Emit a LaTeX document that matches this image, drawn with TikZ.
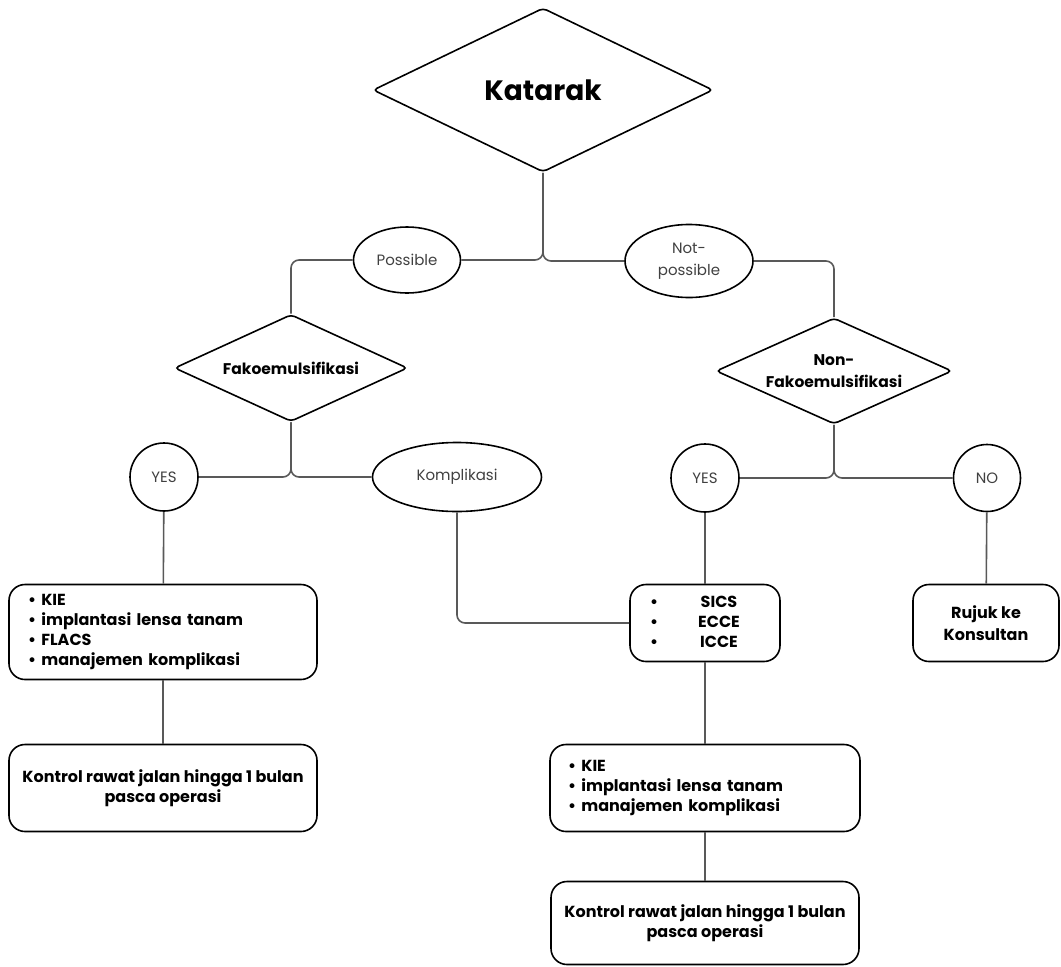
\documentclass[tikz,border=0pt]{standalone}
\usepackage{fontspec}
\setmainfont{Poppins}
\usetikzlibrary{shapes.geometric,positioning}
\tikzset{
    decision/.style={draw, diamond, aspect=2.2, line width=1.6pt, rounded corners=4pt, inner sep=0pt, align=center, font=\bfseries\fontsize{15.5}{22}\selectfont},
    answer/.style={draw, ellipse, line width=1.6pt, inner sep=0pt, align=center, text=black!75, font=\fontsize{15}{22}\selectfont},
    action/.style={draw, rectangle, rounded corners=16pt, line width=1.6pt, inner sep=0pt, align=center, font=\bfseries\fontsize{16}{20}\selectfont},
    link/.style={draw=black!65, line width=1.6pt, rounded corners=8pt}
}

\begin{document}
\begin{tikzpicture}[x=1pt, y=-1pt]
    \useasboundingbox (0,0) rectangle (1061,967);

    % decisions
    \node[decision, aspect=2, minimum width=340pt, minimum height=164pt, font=\bfseries\fontsize{28}{32}\selectfont] (katarak) at (543,90) {Katarak};
    \node[decision, minimum width=233pt, minimum height=107pt] (fako) at (291,368) {Fakoemulsifikasi};
    \node[decision, minimum width=236pt, minimum height=106pt] (nonfako) at (834,371) {Non-\\Fakoemulsifikasi};

    % answers
    \node[answer, minimum width=107pt, minimum height=66pt] (possible) at (407,260) {Possible};
    \node[answer, minimum width=128pt, minimum height=73pt] (notpossible) at (689,261) {Not-\\possible};
    \node[answer, circle, minimum size=68pt] (yesfako) at (164,477) {YES};
    \node[answer, minimum width=169pt, minimum height=69pt] (komplikasi) at (457,477) {Komplikasi};
    \node[answer, circle, minimum size=68pt] (yesnonfako) at (705,478) {YES};
    \node[answer, circle, minimum size=67pt] (no) at (987,478) {NO};

    % actions
    \node[action, minimum width=308pt, minimum height=95pt, text width=270pt, align=left] (fakoplan) at (163,632) {\textbullet\ KIE\\\textbullet\ implantasi lensa tanam\\\textbullet\ FLACS\\\textbullet\ manajemen komplikasi};
    \node[action, minimum width=308pt, minimum height=87pt] (fakokontrol) at (163,788) {Kontrol rawat jalan hingga 1 bulan\\pasca operasi};
    \node[action, minimum width=150pt, minimum height=77pt] (teknik) at (705,623) {\begin{tabular}{@{}l@{\hspace{40pt}}c@{\hspace{20pt}}}\textbullet & SICS\\\textbullet & ECCE\\\textbullet & ICCE\end{tabular}};
    \node[action, minimum width=310pt, minimum height=87pt, text width=274pt, align=left] (nonfakoplan) at (705,788) {\textbullet\ KIE\\\textbullet\ implantasi lensa tanam\\\textbullet\ manajemen komplikasi};
    \node[action, minimum width=308pt, minimum height=83pt] (nonfakokontrol) at (705,923) {Kontrol rawat jalan hingga 1 bulan\\pasca operasi};
    \node[action, minimum width=146pt, minimum height=77pt, font=\bfseries\fontsize{16}{22}\selectfont] (rujuk) at (986,623) {Rujuk ke\\Konsultan};

    % links
    \draw[link] (katarak.south) |- (possible.east);
    \draw[link] (katarak.south) |- (notpossible.west);
    \draw[link] (possible.west) -| (fako.north);
    \draw[link] (notpossible.east) -| (nonfako.north);
    \draw[link] (fako.south) |- (yesfako.east);
    \draw[link] (fako.south) |- (komplikasi.west);
    \draw[link] (nonfako.south) |- (yesnonfako.east);
    \draw[link] (nonfako.south) |- (no.west);
    \draw[link] (yesfako) -- (fakoplan);
    \draw[link] (fakoplan) -- (fakokontrol);
    \draw[link] (komplikasi.south) |- (teknik.west);
    \draw[link] (yesnonfako) -- (teknik);
    \draw[link] (teknik) -- (nonfakoplan);
    \draw[link] (nonfakoplan) -- (nonfakokontrol);
    \draw[link] (no) -- (rujuk);
\end{tikzpicture}
\end{document}
